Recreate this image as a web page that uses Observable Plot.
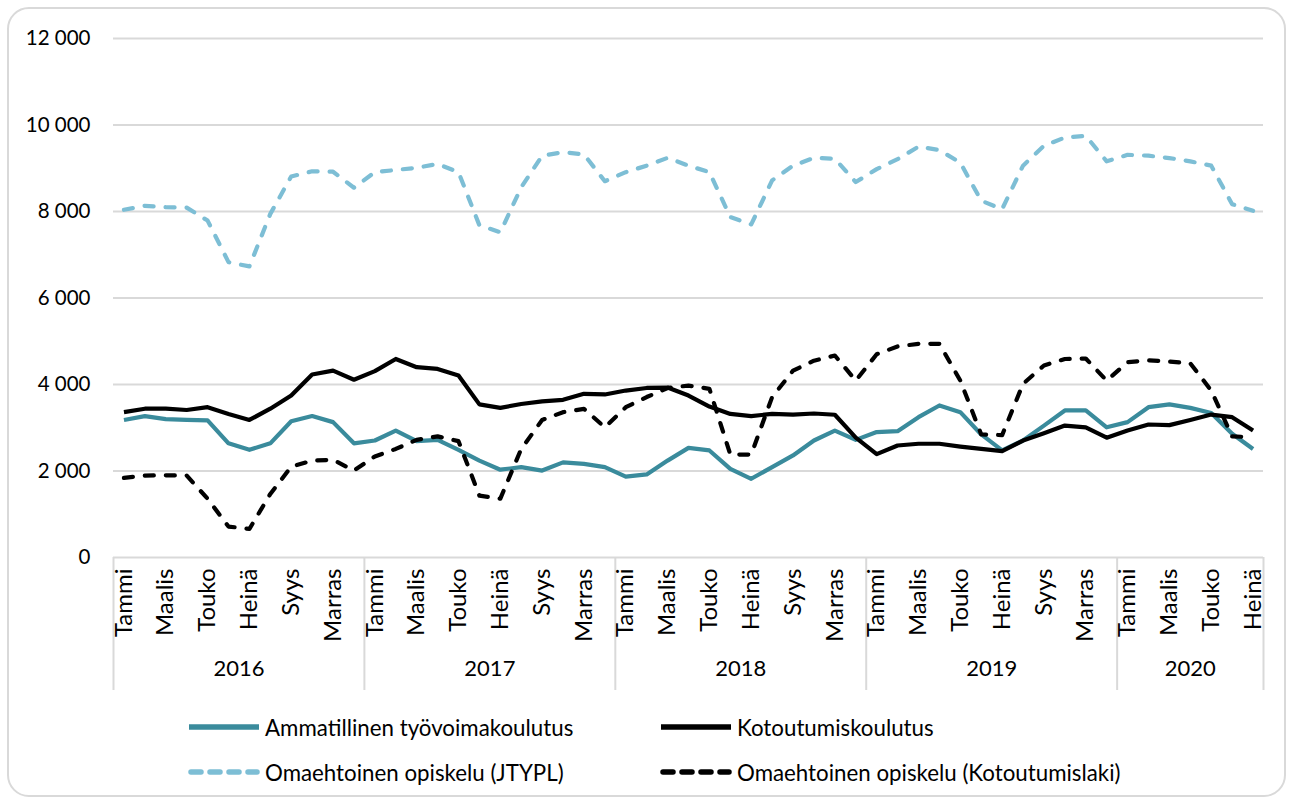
<!DOCTYPE html>
<html><head><meta charset="utf-8">
<script src="https://cdn.jsdelivr.net/npm/d3@7"></script>
<script src="https://cdn.jsdelivr.net/npm/@observablehq/plot@0.6"></script>
<style>
body{margin:0;background:#fff;font-family:Lato, sans-serif;width:1291px;height:803px;overflow:hidden;position:relative;}
#frame{position:absolute;left:7px;top:7px;width:1279px;height:790px;border:2px solid #d9d9d9;border-radius:22px;box-sizing:border-box;}
#chart{position:absolute;left:0;top:0;}
.item{position:absolute;display:flex;align-items:center;font-size:22.3px;color:#000;white-space:nowrap;height:30px;}
.item svg{margin-right:5px;}
</style></head><body>
<div id="frame"></div>
<div id="chart"></div>
<div id="legend"></div>
<script>
// ---- data ----
const monthNames = ["Tammi","Helmi","Maalis","Huhti","Touko","Kesä","Heinä","Elo","Syys","Loka","Marras","Joulu"];
const years = [2016, 2017, 2018, 2019, 2020];
const monthsPerYear = [12, 12, 12, 12, 7];
const yTicks = [0, 2000, 4000, 6000, 8000, 10000, 12000];
const seriesNames = ["Ammatillinen työvoimakoulutus", "Kotoutumiskoulutus", "Omaehtoinen opiskelu (JTYPL)", "Omaehtoinen opiskelu (Kotoutumislaki)"];

const ammatillinen = [
  3180, 3270, 3200, 3180, 3170, 2640, 2490, 2640, 3150, 3270, 3130, 2640,
  2705, 2935, 2690, 2720, 2490, 2240, 2030, 2090, 2010, 2200, 2165, 2090,
  1870, 1920, 2240, 2535, 2475, 2050, 1820, 2090, 2360, 2705, 2935, 2720,
  2900, 2920, 3245, 3515, 3360, 2845, 2475, 2705, 3050, 3400, 3400, 3010,
  3130, 3475, 3540, 3460, 3340, 2860, 2510
];
const kotoutumiskoulutus = [
  3360, 3440, 3440, 3410, 3475, 3320, 3180, 3440, 3745, 4230, 4320, 4110,
  4310, 4590, 4400, 4360, 4210, 3540, 3460, 3550, 3610, 3645, 3785, 3770,
  3860, 3920, 3930, 3745, 3490, 3320, 3270, 3320, 3305, 3330, 3300, 2770,
  2390, 2590, 2630, 2630, 2565, 2510, 2460, 2705, 2875, 3050, 3010, 2770,
  2935, 3075, 3060, 3180, 3305, 3245, 2935
];
const jtypl = [
  8040, 8130, 8100, 8090, 7790, 6830, 6730, 7945, 8810, 8930, 8920, 8550,
  8910, 8960, 9010, 9100, 8910, 7680, 7520, 8560, 9290, 9370, 9320, 8700,
  8910, 9060, 9240, 9060, 8910, 7870, 7700, 8720, 9060, 9240, 9220, 8680,
  8980, 9210, 9500, 9420, 9130, 8250, 8055, 9060, 9520, 9710, 9750, 9160,
  9310, 9290, 9235, 9160, 9060, 8170, 8015
];
const kotoutumislaki = [
  1840, 1895, 1900, 1895, 1360, 715, 660, 1470, 2100, 2240, 2260, 2010,
  2335, 2510, 2720, 2800, 2690, 1430, 1360, 2510, 3180, 3360, 3437, 3010,
  3475, 3710, 3920, 3975, 3900, 2380, 2380, 3710, 4320, 4550, 4670, 4090,
  4700, 4880, 4940, 4940, 4090, 2845, 2830, 4015, 4440, 4590, 4600, 4090,
  4515, 4560, 4530, 4490, 3860, 2800, 2780
];

// ---- styles ----
const seriesStyle = [
  {color: "#3a8b9c", dash: null},
  {color: "#000000", dash: null},
  {color: "#7dbed5", dash: "9,12"},
  {color: "#000000", dash: "9,12"}
];
const seriesValues = [ammatillinen, kotoutumiskoulutus, jtypl, kotoutumislaki];

// ---- derived tables ----
const N = monthsPerYear.reduce((a, b) => a + b, 0);
const months = [];
years.forEach((y, yi) => { for (let m = 0; m < monthsPerYear[yi]; m++) months.push({year: y, m}); });
const tickIdx = months.map((d, i) => i).filter(i => months[i].m % 2 === 0);
const yearBounds = [-0.5];
const yearLabels = [];
let start = -0.5;
years.forEach((y, yi) => {
  const end = start + monthsPerYear[yi];
  yearBounds.push(end);
  yearLabels.push({year: String(y), center: (start + end) / 2});
  start = end;
});
const fmt = d => d3.format(",")(d).replace(/,/g, " ");

const lineMarks = seriesValues.map((vals, s) => {
  const rows = vals.map((v, i) => ({i, v}));
  return Plot.line(rows, {
    x: "i", y: "v",
    stroke: seriesStyle[s].color,
    strokeWidth: 4.2,
    strokeDasharray: seriesStyle[s].dash || undefined,
    strokeLinecap: seriesStyle[s].dash ? "round" : "butt",
    strokeLinejoin: "round"
  });
});

const chart = Plot.plot({
  width: 1291, height: 700,
  marginLeft: 113, marginRight: 28, marginTop: 38, marginBottom: 143,
  style: {fontFamily: "Lato, sans-serif", fontSize: "22px", color: "#000", background: "transparent", overflow: "visible"},
  x: {type: "linear", domain: [-0.5, N - 0.5]},
  y: {domain: [0, 12000]},
  marks: [
    Plot.ruleY(yTicks, {y: d => d, stroke: "#d9d9d9", strokeWidth: 2}),
    Plot.ruleX(yearBounds, {x: d => d, stroke: "#d9d9d9", strokeWidth: 2, insetTop: 519, insetBottom: -133}),
    Plot.axisY(yTicks, {tickSize: 0, tickPadding: 23, tickFormat: fmt, label: null, fill: "#000", fontSize: 20.5}),
    Plot.axisX(tickIdx, {tickSize: 0, tickPadding: 11, tickRotate: -90, tickFormat: i => monthNames[months[i].m], label: null, fill: "#000", fontSize: 24}),
    Plot.text(yearLabels, {x: "center", text: "year", frameAnchor: "bottom", dy: 118, fill: "#000", fontSize: 22}),
    ...lineMarks
  ]
});
document.getElementById("chart").appendChild(chart);

// ---- legend ----
const legend = document.getElementById("legend");
const legendPos = [[188, 727], [660, 727], [188, 772], [660, 772]];
seriesNames.forEach((name, s) => {
  const div = document.createElement("div");
  div.className = "item";
  div.style.left = legendPos[s][0] + "px";
  div.style.top = (legendPos[s][1] - 15) + "px";
  const st = seriesStyle[s];
  div.innerHTML = `<svg width="72" height="12"><line x1="${st.dash ? 3 : 1}" y1="6" x2="${st.dash ? 69 : 71}" y2="6" stroke="${st.color}" stroke-width="5.5" ${st.dash ? `stroke-dasharray="10,9" stroke-linecap="round"` : ""}/></svg><span>${name}</span>`;
  legend.appendChild(div);
});
</script>
</body></html>
